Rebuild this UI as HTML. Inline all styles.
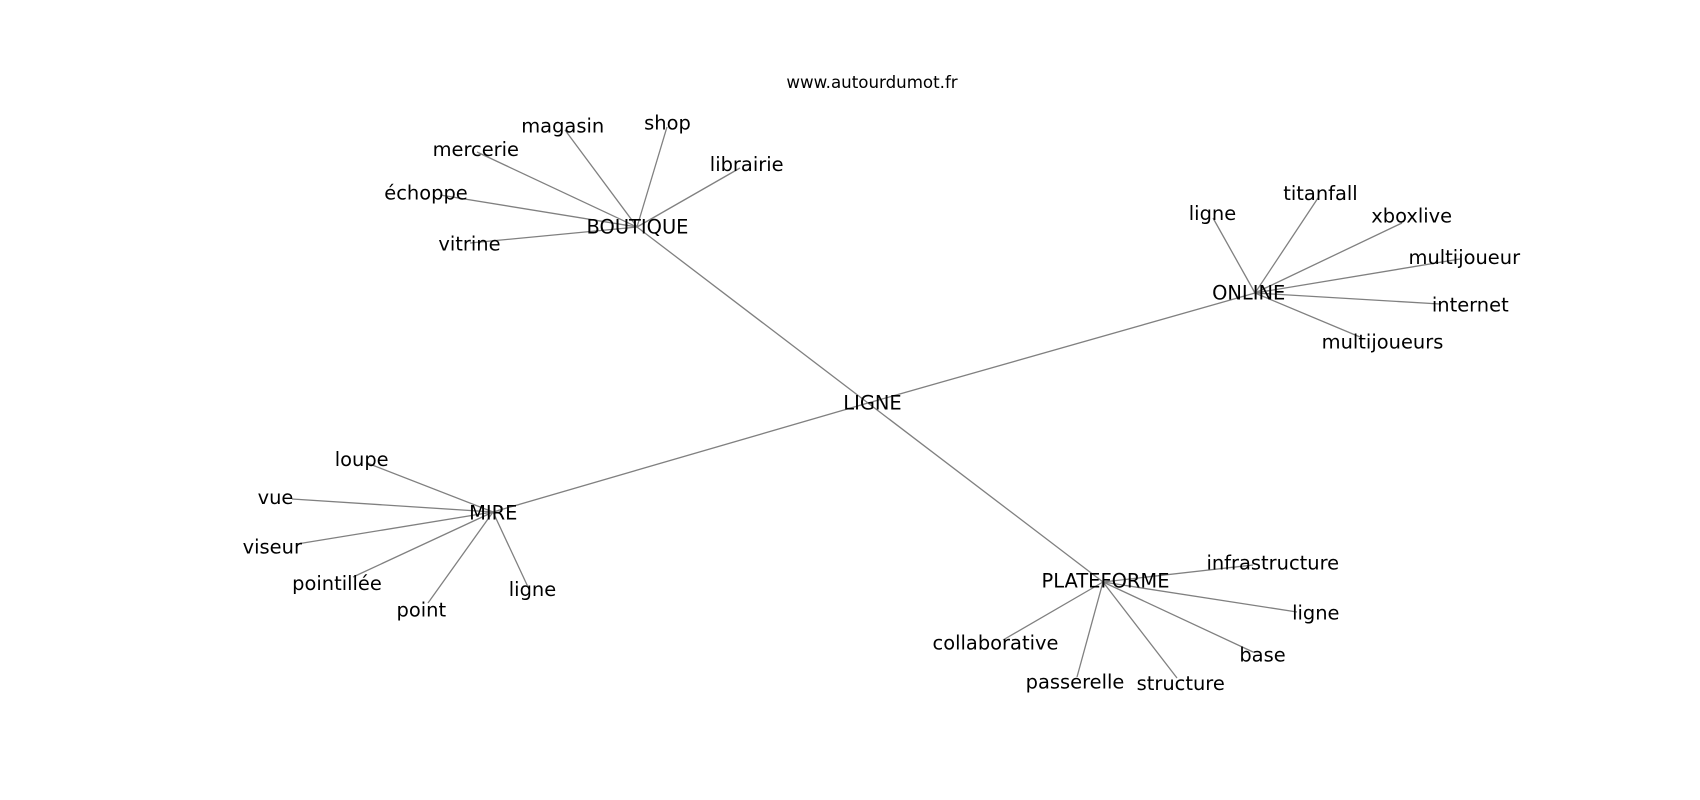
<!DOCTYPE html>
<html>
<head>
<meta charset="utf-8">
<style>
html,body{margin:0;padding:0;background:#fff;}
svg{display:block;}
text{font-family:"DejaVu Sans","Liberation Sans",sans-serif;fill:#000;}
.n{font-size:19.44px;text-anchor:middle;}
.t{font-size:16.67px;text-anchor:middle;}
line{stroke:#808080;stroke-width:1.3;}
</style>
</head>
<body>
<svg width="1700" height="800" viewBox="0 0 1700 800" xmlns="http://www.w3.org/2000/svg">
<rect width="1700" height="800" fill="#fff"/>
<!-- trunk edges -->
<line x1="868" y1="403" x2="637" y2="227"/>
<line x1="868" y1="403" x2="1255" y2="293"/>
<line x1="868" y1="403" x2="493" y2="512"/>
<line x1="868" y1="403" x2="1103" y2="582"/>
<!-- BOUTIQUE -->
<line x1="637" y1="227" x2="565" y2="130"/>
<line x1="637" y1="227" x2="667" y2="127"/>
<line x1="637" y1="227" x2="740" y2="168"/>
<line x1="637" y1="227" x2="477" y2="152"/>
<line x1="637" y1="227" x2="440" y2="195"/>
<line x1="637" y1="227" x2="470" y2="243"/>
<!-- ONLINE -->
<line x1="1255" y1="293" x2="1213" y2="218"/>
<line x1="1255" y1="293" x2="1318" y2="198"/>
<line x1="1255" y1="293" x2="1402" y2="223"/>
<line x1="1255" y1="293" x2="1460" y2="259"/>
<line x1="1255" y1="293" x2="1440" y2="304"/>
<line x1="1255" y1="293" x2="1360" y2="337"/>
<!-- MIRE -->
<line x1="493" y1="512" x2="367" y2="463"/>
<line x1="493" y1="512" x2="292" y2="499"/>
<line x1="493" y1="512" x2="297" y2="544"/>
<line x1="493" y1="512" x2="353" y2="577"/>
<line x1="493" y1="512" x2="428" y2="603"/>
<line x1="493" y1="512" x2="528" y2="587"/>
<!-- PLATEFORME -->
<line x1="1103" y1="582" x2="1253" y2="565"/>
<line x1="1103" y1="582" x2="1297" y2="612"/>
<line x1="1103" y1="582" x2="1253" y2="652"/>
<line x1="1103" y1="582" x2="1177" y2="678"/>
<line x1="1103" y1="582" x2="1077" y2="677"/>
<line x1="1103" y1="582" x2="1003" y2="640"/>

<text class="t" x="872" y="88">www.autourdumot.fr</text>

<text class="n" x="872.5" y="409.3">LIGNE</text>

<text class="n" x="637.5" y="233.3">BOUTIQUE</text>
<text class="n" x="562.7" y="132.7">magasin</text>
<text class="n" x="667.5" y="129.3">shop</text>
<text class="n" x="746.7" y="171">librairie</text>
<text class="n" x="475.8" y="156">mercerie</text>
<text class="n" x="426" y="199.3">échoppe</text>
<text class="n" x="469.5" y="250.7">vitrine</text>

<text class="n" x="1248.7" y="299.3">ONLINE</text>
<text class="n" x="1212.5" y="220">ligne</text>
<text class="n" x="1320.5" y="200">titanfall</text>
<text class="n" x="1411.7" y="222.3">xboxlive</text>
<text class="n" x="1464.3" y="264">multijoueur</text>
<text class="n" x="1470.3" y="311.7">internet</text>
<text class="n" x="1382.5" y="348.3">multijoueurs</text>

<text class="n" x="493.3" y="519.3">MIRE</text>
<text class="n" x="361.7" y="466">loupe</text>
<text class="n" x="275.5" y="504">vue</text>
<text class="n" x="272.3" y="553.3">viseur</text>
<text class="n" x="337" y="590">pointillée</text>
<text class="n" x="421.3" y="616.7">point</text>
<text class="n" x="532.5" y="596">ligne</text>

<text class="n" x="1105.5" y="587.7">PLATEFORME</text>
<text class="n" x="1272.8" y="569.3">infrastructure</text>
<text class="n" x="1315.8" y="619.3">ligne</text>
<text class="n" x="1262.5" y="661.7">base</text>
<text class="n" x="1180.7" y="690">structure</text>
<text class="n" x="1075" y="688.3">passerelle</text>
<text class="n" x="995.5" y="649.3">collaborative</text>
</svg>
</body>
</html>
